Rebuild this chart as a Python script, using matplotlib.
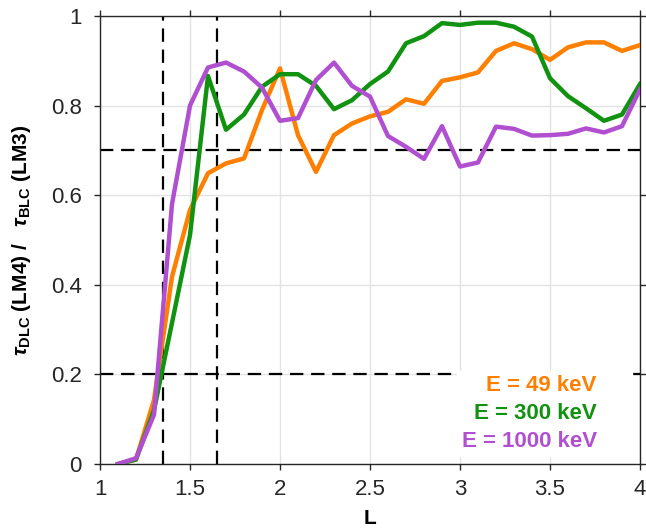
import matplotlib
matplotlib.use('Agg')
import matplotlib.pyplot as plt
import numpy as np

# --- data (step 0.1 in L)
L = np.round(np.arange(1.1, 4.01, 0.1), 1)

tau_49 = [0.00, 0.01, 0.143, 0.418, 0.567, 0.649, 0.671, 0.682, 0.790, 0.883,
          0.734, 0.652, 0.734, 0.760, 0.776, 0.786, 0.814, 0.804, 0.855, 0.863,
          0.874, 0.922, 0.939, 0.926, 0.902, 0.930, 0.941, 0.941, 0.922, 0.935]
tau_300 = [0.00, 0.01, 0.120, 0.315, 0.511, 0.866, 0.746, 0.780, 0.842, 0.870,
           0.870, 0.844, 0.792, 0.812, 0.848, 0.876, 0.939, 0.955, 0.984, 0.980,
           0.985, 0.985, 0.976, 0.954, 0.861, 0.821, 0.794, 0.766, 0.780, 0.848]
tau_1000 = [0.00, 0.013, 0.110, 0.580, 0.800, 0.885, 0.896, 0.876, 0.840, 0.766,
            0.772, 0.857, 0.896, 0.844, 0.820, 0.732, 0.708, 0.681, 0.754, 0.664,
            0.673, 0.753, 0.748, 0.733, 0.734, 0.737, 0.749, 0.740, 0.754, 0.836]

labels = ['E = 49 keV', 'E = 300 keV', 'E = 1000 keV']
colors = ['#ff7f00', '#119211', '#b04fd0']

# --- reference lines
v_lines = [1.35, 1.65]
h_lines = [0.2, 0.7]

plt.rcParams['font.family'] = ['Liberation Sans', 'DejaVu Sans']
plt.rcParams['mathtext.fontset'] = 'custom'
plt.rcParams['mathtext.it'] = 'Liberation Sans:italic:bold'
plt.rcParams['mathtext.bf'] = 'Liberation Sans:bold'
plt.rcParams['mathtext.rm'] = 'Liberation Sans:bold'

fig = plt.figure(figsize=(6.46, 5.32), dpi=100)
ax = fig.add_axes([0.1548, 0.1278, 0.8359, 0.8422])

ax.grid(True, color='#e3e3e3', lw=1.0)
ax.set_axisbelow(True)

for v in v_lines:
    ax.axvline(v, color='k', ls=(0, (6, 3.5)), lw=1.6, zorder=2)
for h in h_lines:
    ax.axhline(h, color='k', ls=(0, (6, 3.5)), lw=1.6, zorder=2)

for y, c, lab in zip([tau_49, tau_300, tau_1000], colors, labels):
    ax.plot(L, y, color=c, lw=3.2, label=lab, zorder=3)

ax.set_xlim(1, 4)
ax.set_ylim(0, 1)
ax.set_xticks([1, 1.5, 2, 2.5, 3, 3.5, 4])
ax.set_xticklabels(['1', '1.5', '2', '2.5', '3', '3.5', '4'])
ax.set_yticks([0, 0.2, 0.4, 0.6, 0.8, 1])
ax.set_yticklabels(['0', '0.2', '0.4', '0.6', '0.8', '1'])
ax.tick_params(direction='out', length=4, width=1, colors='#262626',
               labelsize=16, top=True, right=True, labelcolor='#262626')
ax.tick_params(axis='x', pad=7)
ax.tick_params(axis='y', pad=9)
for s in ax.spines.values():
    s.set_color('#262626')
    s.set_linewidth(1)

ax.set_xlabel('L', fontsize=15, fontweight='bold', labelpad=6)
ax.set_ylabel(r'$\tau_{\mathbf{DLC}}$ (LM4) /   $\tau_{\mathbf{BLC}}$ (LM3)',
              fontsize=15, fontweight='bold', labelpad=13)

leg = ax.legend(loc='lower right', handlelength=1.0, handletextpad=0.4,
                markerfirst=False, frameon=True, framealpha=1,
                edgecolor='white', facecolor='white', fancybox=False,
                prop={'size': 16, 'weight': 'bold'}, labelspacing=0.3,
                borderaxespad=0.35, borderpad=0.2)
for t, c in zip(leg.get_texts(), colors):
    t.set_color(c)
for h in leg.legend_handles:
    h.set_visible(False)
leg.set_zorder(4)

fig.savefig('out.png', dpi=100)
